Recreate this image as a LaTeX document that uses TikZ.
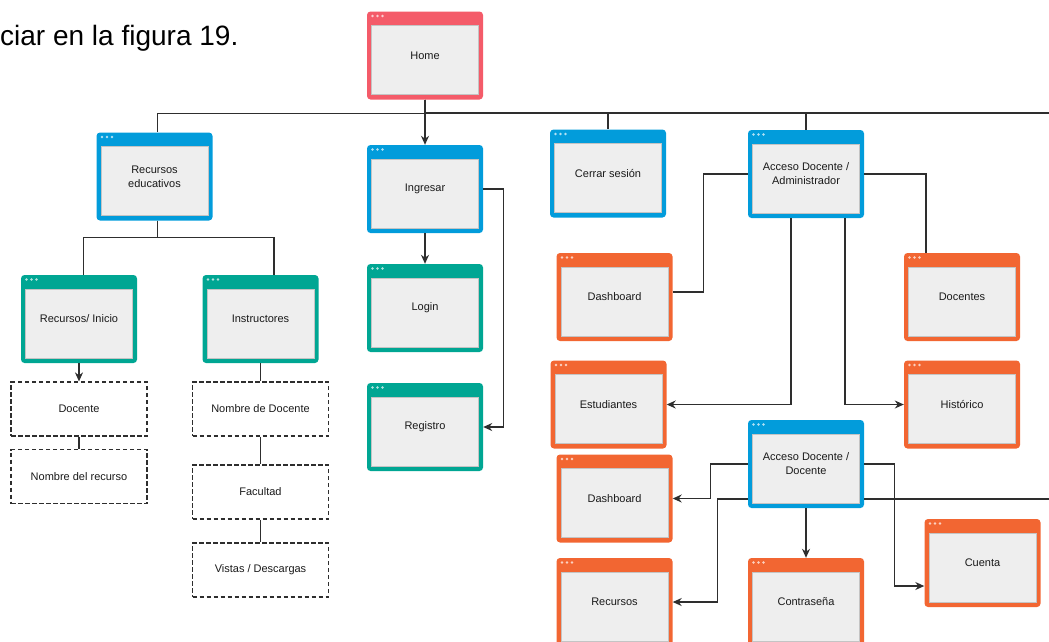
\documentclass[tikz,border=0pt]{standalone}
\usepackage{fontspec}
\setmainfont{Liberation Sans}
\usetikzlibrary{arrows.meta,calc}

\definecolor{winred}{HTML}{F45B69}
\definecolor{winblue}{HTML}{029CDB}
\definecolor{winteal}{HTML}{00A693}
\definecolor{winorange}{HTML}{F26632}
\definecolor{wininner}{HTML}{EEEEEE}
\definecolor{winedge}{HTML}{C4C4C4}
\definecolor{linecol}{HTML}{2E2E2E}
\definecolor{txtcol}{HTML}{1A1A1A}

\newcommand{\winfont}{\fontsize{11}{14}\selectfont}

\tikzset{
  win/.style={
    rounded corners=3.5pt, fill=#1, draw=none,
    minimum width=116pt, minimum height=88pt, inner sep=0pt,
    align=center, font=\winfont, text=txtcol,
    path picture={
      \filldraw[sharp corners, fill=wininner, draw=winedge, line width=0.8pt]
        ([xshift=4.5pt,yshift=-14pt]path picture bounding box.north west)
        rectangle ([xshift=-4.5pt,yshift=5pt]path picture bounding box.south east);
      \foreach \i in {0,1,2}
        \fill[white, opacity=0.7]
          ([xshift={5.5pt+\i*5pt},yshift=-4.5pt]path picture bounding box.north west)
          circle (1.4pt);
    }},
  dbox/.style={
    draw=linecol, line width=1.2pt, dash pattern=on 4.5pt off 2.5pt,
    minimum width=136pt, minimum height=54pt, inner sep=0pt,
    font=\winfont, text=txtcol},
  ln/.style={draw=linecol, line width=1.3pt},
  arr/.style={ln, -{Stealth[length=9pt,width=8pt]}}
}

\begin{document}
\begin{tikzpicture}[x=1pt,y=-1pt]
  \useasboundingbox (0,0) rectangle (1049,641);

  % leading sentence fragment
  \node[anchor=base west, inner sep=0pt, font=\fontsize{28}{32}\selectfont, text=black]
    (intro) at (0,45) {ciar en la figura 19.};

  % windows
  \node[win=winred]    (home)     at (425,55.5)  {Home};
  \node[win=winblue]   (receduc)  at (154.5,176.5) {Recursos\\educativos};
  \node[win=winblue]   (ingresar) at (425,189)   {Ingresar};
  \node[win=winblue]   (cerrar)   at (608,173.5) {Cerrar sesión};
  \node[win=winblue]   (accadmin) at (806,174)   {Acceso Docente /\\Administrador};
  \node[win=winteal]   (recini)   at (79,319)    {Recursos/ Inicio};
  \node[win=winteal]   (instr)    at (260.5,319) {Instructores};
  \node[win=winteal]   (login)    at (425,308)   {Login};
  \node[win=winteal]   (registro) at (425,427)   {Registro};
  \node[win=winorange] (dashA)    at (614.5,297) {Dashboard};
  \node[win=winorange] (docentes) at (962,297)   {Docentes};
  \node[win=winorange] (estud)    at (608.5,404.5) {Estudiantes};
  \node[win=winorange] (hist)     at (962,404.5) {Histórico};
  \node[win=winblue]   (accdoc)   at (806,464)   {Acceso Docente /\\Docente};
  \node[win=winorange] (dashB)    at (614.5,498.5) {Dashboard};
  \node[win=winorange] (cuenta)   at (982.5,563) {Cuenta};
  \node[win=winorange] (recursos) at (614.5,602) {Recursos};
  \node[win=winorange] (contra)   at (806,602)   {Contraseña};

  % dashed detail boxes
  \node[dbox] (docente)  at (79,409)    {Docente};
  \node[dbox] (nomrec)   at (79,476.5)  {Nombre del recurso};
  \node[dbox] (nomdoc)   at (260.5,409) {Nombre de Docente};
  \node[dbox] (facultad) at (260.5,492) {Facultad};
  \node[dbox] (vistas)   at (260.5,570) {Vistas / Descargas};

  % free ends at the right margin
  \coordinate (edgeA) at (1049,113);
  \coordinate (edgeB) at (1049,499);

  % top level bus
  \draw[ln] (home.south) |- (edgeA);
  \draw[ln] (home.south) -- ++(0,13.5) -| ([xshift=3pt]receduc.north);
  \draw[ln] (home.south) -- ++(0,13.5) -| (cerrar.north);
  \draw[ln] (home.south) -- ++(0,13.5) -| (accadmin.north);
  \draw[arr] (home.south) -- (ingresar.north);

  % educational resources branch
  \draw[ln] ([xshift=3pt]receduc.south) -- ++(0,17) -| ([xshift=4.5pt]recini.north);
  \draw[ln] ([xshift=3pt]receduc.south) -- ++(0,17) -| ([xshift=13.5pt]instr.north);
  \draw[arr] (recini.south) -- (docente.north);
  \draw[ln] (docente.south) -- (nomrec.north);
  \draw[ln] (instr.south) -- (nomdoc.north);
  \draw[ln] (nomdoc.south) -- (facultad.north);
  \draw[ln] (facultad.south) -- (vistas.north);

  % sign in branch
  \draw[arr] (ingresar.south) -- (login.north);
  \draw[arr] (ingresar.east) -- ++(20,0) |- (registro.east);

  % administrator access
  \draw[ln] (accadmin.west) -- ++(-44,0) |- ([yshift=5pt]dashA.east);
  \draw[ln] (accadmin.east) -| ([xshift=-36pt]docentes.north);
  \draw[arr] ([xshift=-15pt]accadmin.south) |- (estud.east);
  \draw[arr] ([xshift=39pt]accadmin.south) |- (hist.west);

  % teacher access
  \draw[arr] (accdoc.west) -- ++(-37,0) |- (dashB.east);
  \draw[arr] ([yshift=-35pt]accdoc.west) -- ++(-30,0) |- (recursos.east);
  \draw[arr] (accdoc.south) -- (contra.north);
  \draw[arr] (accdoc.east) -- ++(30,0) |- ([yshift=-23pt]cuenta.west);
  \draw[ln] ([yshift=-35pt]accdoc.east) -- (edgeB);
\end{tikzpicture}
\end{document}
